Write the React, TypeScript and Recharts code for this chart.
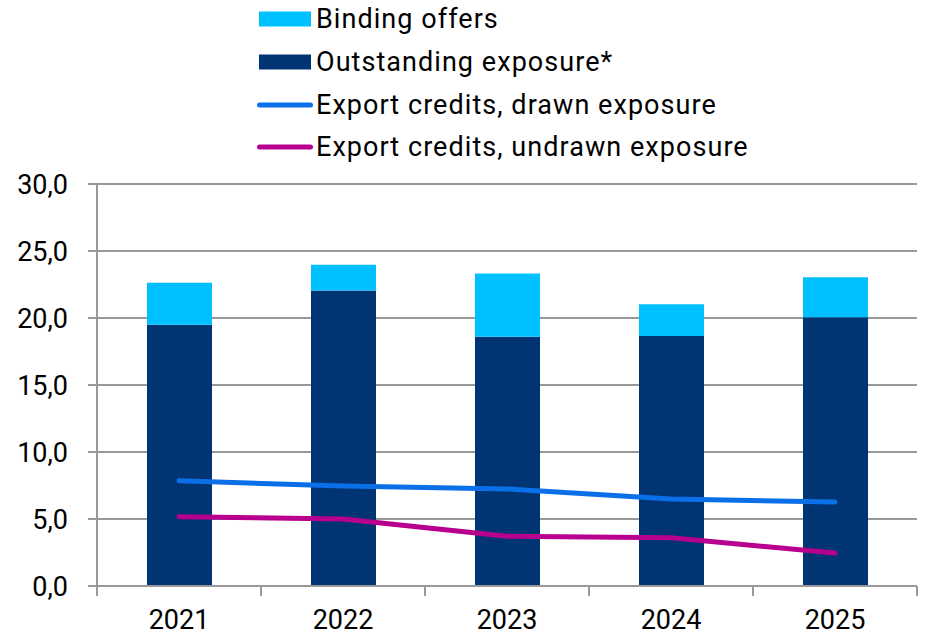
import {
  ComposedChart,
  CartesianGrid,
  XAxis,
  YAxis,
  Bar,
  Line,
  Legend,
} from "recharts";

const years = ["2021", "2022", "2023", "2024", "2025"];
const outstandingExposure = [19.5, 22.05, 18.6, 18.65, 20.05];
const bindingOffers = [3.13, 1.92, 4.73, 2.38, 2.99];
const drawnExposure = [7.86, 7.46, 7.24, 6.49, 6.27];
const undrawnExposure = [5.17, 5.0, 3.71, 3.6, 2.46];
const yTicks = [0, 5, 10, 15, 20, 25, 30];

const legendOrder = [
  "Binding offers",
  "Outstanding exposure*",
  "Export credits, drawn exposure",
  "Export credits, undrawn exposure",
];

const data = years.map((year, i) => ({
  year,
  outstanding: outstandingExposure[i],
  binding: bindingOffers[i],
  drawn: drawnExposure[i],
  undrawn: undrawnExposure[i],
}));

const FONT = "Roboto, sans-serif";
const AXIS_GREY = "#999999";
const BAND = (917 - 97) / years.length;

const formatTick = (v: number) => v.toFixed(1).replace(".", ",");

function YearTick(props: any) {
  const { x, y, payload, index } = props;
  return (
    <g>
      <line x1={x - BAND / 2} y1={y} x2={x - BAND / 2} y2={y + 10} stroke={AXIS_GREY} strokeWidth={2} />
      {index === years.length - 1 && (
        <line x1={x + BAND / 2} y1={y} x2={x + BAND / 2} y2={y + 10} stroke={AXIS_GREY} strokeWidth={2} />
      )}
      <text x={x} y={y + 43} textAnchor="middle" fontSize={27} fontFamily={FONT} fill="#000">
        {payload.value}
      </text>
    </g>
  );
}

function LegendBox(props: any) {
  const items = [...(props.payload || [])].sort(
    (a: any, b: any) => legendOrder.indexOf(a.value) - legendOrder.indexOf(b.value)
  );
  return (
    <div style={{ fontFamily: FONT, fontSize: 27, letterSpacing: 1.05, color: "#000" }}>
      {items.map((item: any) => (
        <div key={item.value} style={{ display: "flex", alignItems: "center", height: 42.7 }}>
          <svg width={60} height={20} style={{ flex: "none" }}>
            {item.type === "line" ? (
              <line x1={3.5} y1={10} x2={54.5} y2={10} stroke={item.color} strokeWidth={5} strokeLinecap="round" />
            ) : (
              <rect x={3} y={2.5} width={52} height={15} fill={item.color} />
            )}
          </svg>
          <span style={{ whiteSpace: "nowrap", lineHeight: "30px" }}>{item.value}</span>
        </div>
      ))}
    </div>
  );
}

export default function App() {
  return (
    <div style={{ position: "absolute", left: 0, top: 0 }}>
      <ComposedChart
        width={926}
        height={636}
        data={data}
        margin={{ top: 184, right: 9, bottom: 0, left: 0 }}
      >
        <CartesianGrid vertical={false} stroke={AXIS_GREY} strokeWidth={2} />
        <XAxis
          dataKey="year"
          height={50}
          stroke={AXIS_GREY}
          strokeWidth={2}
          tickLine={false}
          tickSize={0}
          tickMargin={0}
          tick={<YearTick />}
          interval={0}
        />
        <YAxis
          width={97}
          domain={[0, 30]}
          ticks={yTicks}
          tickFormatter={formatTick}
          stroke={AXIS_GREY}
          strokeWidth={2}
          tickSize={9}
          tickMargin={20}
          tick={{ fill: "#000", fontSize: 27, fontFamily: FONT }}
          interval={0}
        />
        <Legend
          layout="vertical"
          align="center"
          verticalAlign="middle"
          wrapperStyle={{ top: -2, left: 256, width: 620 }}
          content={<LegendBox />}
        />
        <Bar dataKey="outstanding" name="Outstanding exposure*" stackId="a" fill="#003473" barSize={65} isAnimationActive={false} />
        <Bar dataKey="binding" name="Binding offers" stackId="a" fill="#00C0FF" barSize={65} isAnimationActive={false} />
        <Line
          type="linear"
          dataKey="drawn"
          name="Export credits, drawn exposure"
          stroke="#0B6FE8"
          strokeWidth={5}
          strokeLinecap="round"
          strokeLinejoin="round"
          dot={false}
          activeDot={false}
          isAnimationActive={false}
        />
        <Line
          type="linear"
          dataKey="undrawn"
          name="Export credits, undrawn exposure"
          stroke="#B8008F"
          strokeWidth={5}
          strokeLinecap="round"
          strokeLinejoin="round"
          dot={false}
          activeDot={false}
          isAnimationActive={false}
        />
      </ComposedChart>
    </div>
  );
}
